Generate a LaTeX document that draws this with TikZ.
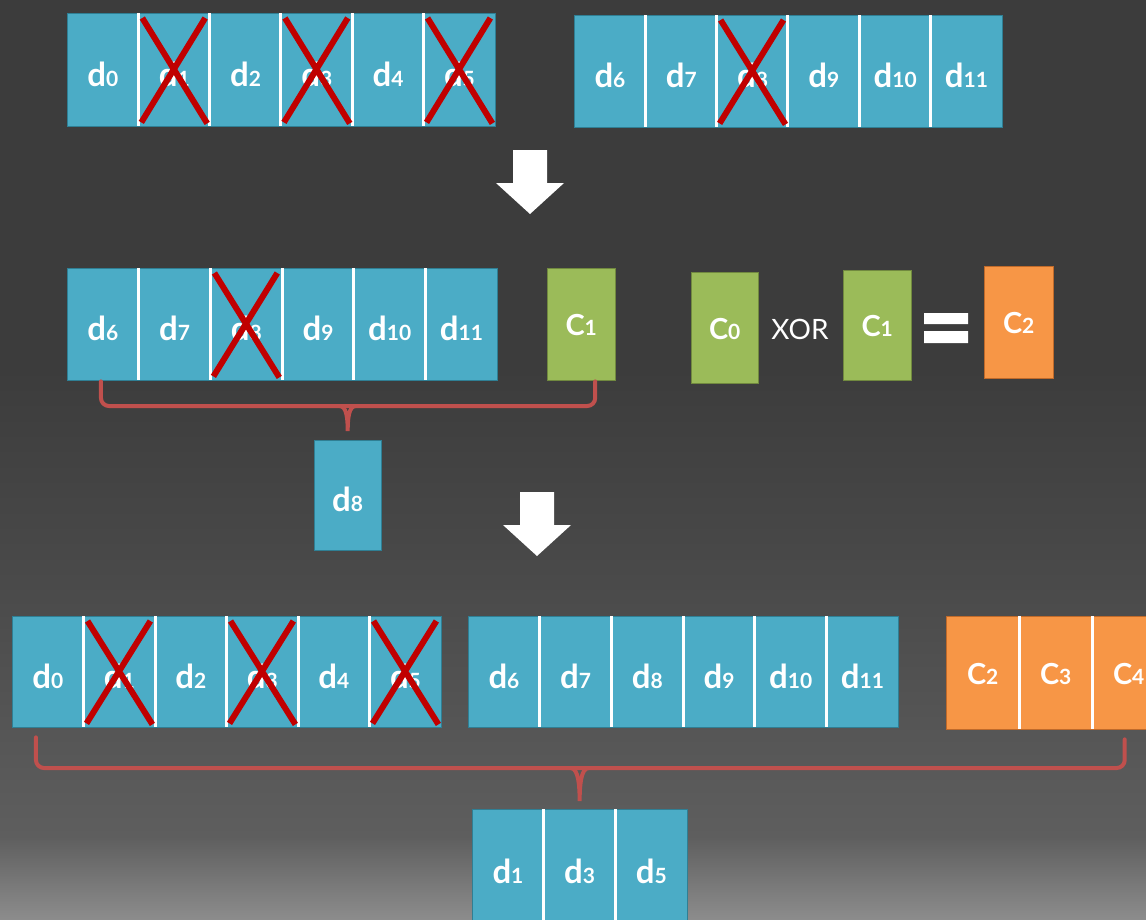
\documentclass[tikz,border=0pt]{standalone}
\usepackage{fontspec}
\setmainfont{Lato}
\usetikzlibrary{positioning}

\definecolor{aqua}{HTML}{4BACC6}
\definecolor{aquarim}{HTML}{2F7F94}
\definecolor{leaf}{HTML}{9BBB59}
\definecolor{leafrim}{HTML}{71893F}
\definecolor{tangerine}{HTML}{F79646}
\definecolor{tangerinerim}{HTML}{C06A2A}
\definecolor{bracered}{HTML}{C0504D}
\definecolor{crossred}{HTML}{C00000}
\definecolor{bgtop}{HTML}{3C3C3C}
\definecolor{bgmid}{HTML}{4B4B4B}
\definecolor{bglow}{HTML}{5E5E5E}
\definecolor{bgbot}{HTML}{8C8C8C}

% the path only covers 25bp..75bp of the shading
\pgfdeclareverticalshading{backdrop}{100bp}{color(0bp)=(bgbot); color(25bp)=(bgbot);
  color(29.5bp)=(bglow); color(42.5bp)=(bgmid); color(55bp)=(bgtop); color(100bp)=(bgtop)}

% block labels: big letter, small index
\newcommand{\dlab}[1]{d{\fontsize{21}{21}\selectfont #1}}
\newcommand{\clab}[1]{{\fontsize{29}{29}\selectfont C}{\fontsize{21}{21}\selectfont #1}}

\tikzset{
  cell/.style={fill=aqua, inner sep=0pt, anchor=north west, text=white,
    minimum width=71.5pt, minimum height=112pt, text height=33pt, text depth=0pt,
    font=\fontsize{33}{33}\selectfont\bfseries},
  greencell/.style={cell, fill=leaf, minimum width=68pt, text height=23pt},
  orangecell/.style={cell, fill=tangerine, text height=23pt},
  rim/.style={draw=aquarim, line width=0.8pt},
  divider/.style={draw=white, line width=3pt},
  cross/.style={draw=crossred, line width=6pt},
  brace/.style={draw=bracered, line width=4pt, line cap=round, rounded corners=8pt},
  dnarrow/.pic={\fill[white] (-17,0) -- (17,0) -- (17,33) -- (34,33) -- (0,64)
    -- (-34,33) -- (-17,33) -- cycle;}
}

\begin{document}
\begin{tikzpicture}[x=1pt,y=-1pt]
\shade[shading=backdrop] (0pt,-919pt) rectangle (1146pt,0pt);
\clip (0,0) rectangle (1146,919);

% first stripe d0..d5
\foreach \k in {0,...,5}
  \node[cell, minimum height=113pt] (sa\k) at (67+71.3*\k,13) {\dlab{\k}};
\draw[rim] (sa0.north west) rectangle (sa5.south east);
\foreach \k in {1,...,5}
  \draw[divider] (sa\k.north west) -- (sa\k.south west);
\foreach \k in {1,3,5}
  \draw[cross] ([shift={(4,5)}]sa\k.north west) -- ([shift={(-3,-3)}]sa\k.south east)
    ([shift={(-5,5)}]sa\k.north east) -- ([shift={(3,-4)}]sa\k.south west);

% second stripe d6..d11
\foreach \v [count=\k from 0] in {6,...,11}
  \node[cell] (sb\k) at (574+71.3*\k,15) {\dlab{\v}};
\draw[rim] (sb0.north west) rectangle (sb5.south east);
\foreach \k in {1,...,5}
  \draw[divider] (sb\k.north west) -- (sb\k.south west);
\draw[cross] ([shift={(4,5)}]sb2.north west) -- ([shift={(-3,-3)}]sb2.south east)
  ([shift={(-5,5)}]sb2.north east) -- ([shift={(3,-4)}]sb2.south west);

\pic at (530,150) {dnarrow};

% rebuild d8 from the second stripe and C1
\foreach \v [count=\k from 0] in {6,...,11}
  \node[cell] (sc\k) at (67+71.7*\k,268) {\dlab{\v}};
\draw[rim] (sc0.north west) rectangle (sc5.south east);
\foreach \k in {1,...,5}
  \draw[divider] (sc\k.north west) -- (sc\k.south west);
\draw[cross] ([shift={(4,5)}]sc2.north west) -- ([shift={(-3,-3)}]sc2.south east)
  ([shift={(-5,5)}]sc2.north east) -- ([shift={(3,-4)}]sc2.south west);
\node[greencell, draw=leafrim] (pc1) at (547,268) {\clab{1}};

\node[cell, draw=aquarim, minimum width=67pt, minimum height=110pt] (rd8) at (314,440) {\dlab{8}};

\coordinate (ul) at ([xshift=-2pt,yshift=-1pt]sc0.south);
\coordinate (ur) at ([xshift=14pt,yshift=-1pt]pc1.south);
\coordinate (ut) at ([yshift=9pt]rd8.north);
\coordinate (um) at ([yshift=25pt]ut);
\draw[brace] (ul) |- (um) -| (ur);
\draw[brace, rounded corners=0pt] ([xshift=-8pt]um) .. controls ([xshift=-1pt]um) and ([yshift=12pt]ut) .. (ut)
  .. controls ([yshift=12pt]ut) and ([xshift=1pt]um) .. ([xshift=8pt]um);

% C0 xor C1
\node[greencell, draw=leafrim, minimum width=67pt, minimum height=111pt] (pc0) at (691,272) {\clab{0}};
\node[text=white, font=\fontsize{28}{28}\selectfont] (xor) at (800,329) {XOR};
\node[greencell, draw=leafrim, minimum height=110pt] (pc1b) at (843,270) {\clab{1}};
\fill[white] (924,313) rectangle (968,324) (924,331) rectangle (968,343);
\node[orangecell, draw=tangerinerim, minimum width=69pt] (pc2) at (984,266) {\clab{2}};

\pic at (537,492) {dnarrow};

% third row: d0..d5, d6..d11, C2..C4
\foreach \k in {0,...,5}
  \node[cell, minimum height=111pt] (sd\k) at (12+71.5*\k,616) {\dlab{\k}};
\draw[rim] (sd0.north west) rectangle (sd5.south east);
\foreach \k in {1,...,5}
  \draw[divider] (sd\k.north west) -- (sd\k.south west);
\foreach \k in {1,3,5}
  \draw[cross] ([shift={(4,5)}]sd\k.north west) -- ([shift={(-3,-3)}]sd\k.south east)
    ([shift={(-5,5)}]sd\k.north east) -- ([shift={(3,-4)}]sd\k.south west);

\foreach \v [count=\k from 0] in {6,...,11}
  \node[cell, minimum height=111pt] (se\k) at (468+71.7*\k,616) {\dlab{\v}};
\draw[rim] (se0.north west) rectangle (se5.south east);
\foreach \k in {1,...,5}
  \draw[divider] (se\k.north west) -- (se\k.south west);

\foreach \v [count=\k from 0] in {2,3,4}
  \node[orangecell, minimum width=73pt, minimum height=113pt] (sf\k) at (946+73*\k,616) {\clab{\v}};
\draw[draw=tangerinerim, line width=0.8pt] (sf0.north west) rectangle (sf2.south east);
\foreach \k in {1,2}
  \draw[divider] (sf\k.north west) -- (sf\k.south west);

% recovered d1 d3 d5
\foreach \v [count=\k from 0] in {1,3,5}
  \node[cell, minimum height=116pt] (sg\k) at (472+71.7*\k,809) {\dlab{\v}};
\draw[rim] (sg0.north west) rectangle (sg2.south east);
\foreach \k in {1,2}
  \draw[divider] (sg\k.north west) -- (sg\k.south west);

\coordinate (ll) at ([xshift=-12pt,yshift=-10pt]sd0.south);
\coordinate (lr) at ([xshift=-4pt,yshift=-10pt]sf2.south);
\coordinate (lt) at ([yshift=8pt]sg1.north);
\coordinate (lm) at ([yshift=33pt]lt);
\draw[brace] (ll) |- (lm) -| (lr);
\draw[brace, rounded corners=0pt] ([xshift=-9pt]lm) .. controls ([xshift=-1pt]lm) and ([yshift=14pt]lt) .. (lt)
  .. controls ([yshift=14pt]lt) and ([xshift=1pt]lm) .. ([xshift=9pt]lm);
\end{tikzpicture}
\end{document}
